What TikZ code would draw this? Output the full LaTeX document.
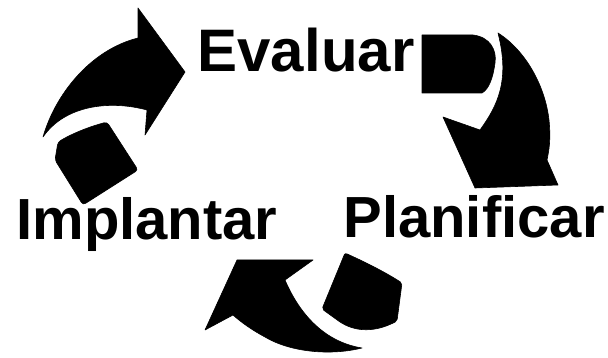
\documentclass[tikz,border=0pt]{standalone}
\usepackage{fontspec}
\setmainfont{Liberation Sans}
\begin{document}
\begin{tikzpicture}[x=1pt,y=-1pt,
  blob/.style={fill=black, draw=black, line width=0.6pt, line join=round},
  lbl/.style={font=\fontsize{#1}{#1}\selectfont\bfseries, inner sep=0pt, anchor=base}]
\useasboundingbox[fill=white] (0,0) rectangle (608,358);

% labels
\node[lbl=60] (evaluar) at (306,72) {Evaluar};
\node[lbl=58] (implantar) at (147,240) {Implantar};
\node[lbl=58] (planificar) at (474,238) {Planificar};

% arrow 1 (top-left): body and head
\path[blob] (43,137) .. controls (55,95) and (90,50) .. (138,38)
  -- (138,8) -- (185,72) -- (145,135) -- (147,110)
  .. controls (110,100) and (65,105) .. (43,137) -- cycle;
% arrow 1 tail block
\path[blob, rounded corners=3pt] (58,142) .. controls (75,132) and (92,126) .. (107,122)
  -- (138,170) -- (83,205) -- (55,160) -- cycle;

% arrow 2 (top-right): D block
\path[blob] (422,35) -- (473,35) .. controls (490,37) and (497,50) .. (495,63)
  .. controls (493,78) and (489,89) .. (482,93) -- (422,93) -- cycle;
% arrow 2 body and head
\path[blob] (498,33) .. controls (525,50) and (545,85) .. (549,120)
  .. controls (551,140) and (549,150) .. (547,160)
  -- (558,185) -- (475,188) -- (443,117) -- (480,130)
  .. controls (498,105) and (510,80) .. (498,33) -- cycle;

% arrow 3 (bottom): block
\path[blob, rounded corners=2pt] (345,253) .. controls (365,262) and (385,272) .. (402,283)
  -- (397,321) .. controls (380,330) and (360,334) .. (340,322) -- (322,309) -- cycle;
% arrow 3 body and head
\path[blob] (237,260) -- (313,260) -- (285,280)
  .. controls (300,315) and (325,342) .. (362,348)
  .. controls (330,356) and (290,352) .. (265,337)
  .. controls (252,330) and (242,323) .. (233,315)
  -- (205,330) -- cycle;
\end{tikzpicture}
\end{document}
